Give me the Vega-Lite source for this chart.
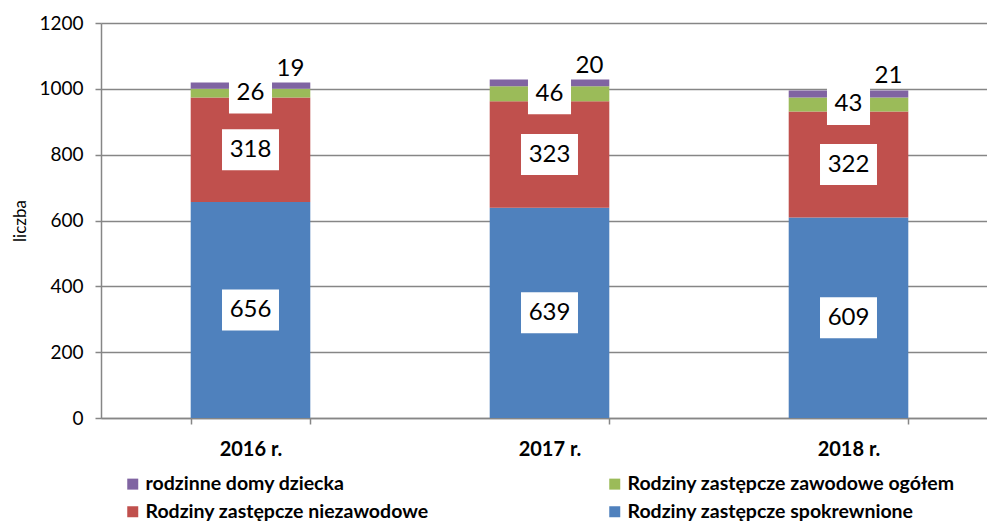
{
  "$schema": "https://vega.github.io/schema/vega-lite/v6.json",
  "width": 897,
  "height": 395,
  "autosize": {"type": "none"},
  "padding": {"left": 101, "top": 23, "right": 0, "bottom": 104},
  "background": "white",
  "config": {"font": "Lato", "view": {"stroke": null}},
  "data": {
    "values": [
      {"year": "2016 r.", "series": "Rodziny zastępcze spokrewnione", "value": 656, "k": 1},
      {"year": "2016 r.", "series": "Rodziny zastępcze niezawodowe", "value": 318, "k": 2},
      {"year": "2016 r.", "series": "Rodziny zastępcze zawodowe ogółem", "value": 26, "k": 3},
      {"year": "2016 r.", "series": "rodzinne domy dziecka", "value": 19, "k": 4},
      {"year": "2017 r.", "series": "Rodziny zastępcze spokrewnione", "value": 639, "k": 1},
      {"year": "2017 r.", "series": "Rodziny zastępcze niezawodowe", "value": 323, "k": 2},
      {"year": "2017 r.", "series": "Rodziny zastępcze zawodowe ogółem", "value": 46, "k": 3},
      {"year": "2017 r.", "series": "rodzinne domy dziecka", "value": 20, "k": 4},
      {"year": "2018 r.", "series": "Rodziny zastępcze spokrewnione", "value": 609, "k": 1},
      {"year": "2018 r.", "series": "Rodziny zastępcze niezawodowe", "value": 322, "k": 2},
      {"year": "2018 r.", "series": "Rodziny zastępcze zawodowe ogółem", "value": 43, "k": 3},
      {"year": "2018 r.", "series": "rodzinne domy dziecka", "value": 21, "k": 4}
    ]
  },
  "transform": [
    {"stack": "value", "groupby": ["year"], "sort": [{"field": "k", "order": "ascending"}], "as": ["v0", "v1"]},
    {"calculate": "(datum.v0 + datum.v1) / 2", "as": "mid"}
  ],
  "encoding": {
    "x": {
      "field": "year",
      "type": "nominal",
      "scale": {"paddingInner": 0.6, "paddingOuter": 0.3},
      "axis": {
        "title": null,
        "labelAngle": 0,
        "labelFontSize": 20,
        "labelFontWeight": "bold",
        "labelColor": "black",
        "labelPadding": 15,
        "tickBand": "extent",
        "tickSize": 6,
        "tickColor": "#868686",
        "domainColor": "#868686",
        "domainWidth": 1.5,
        "tickWidth": 1.5
      }
    }
  },
  "layer": [
    {
      "mark": {"type": "bar"},
      "encoding": {
        "y": {
          "field": "v0",
          "type": "quantitative",
          "scale": {"domain": [0, 1200]},
          "axis": {
            "title": "liczba",
            "titleFontSize": 17,
            "titleFontWeight": "normal",
            "titleColor": "black",
            "titlePadding": 9,
            "values": [0, 200, 400, 600, 800, 1000, 1200],
            "format": "d",
            "labelFontSize": 19,
            "labelColor": "black",
            "labelPadding": 12,
            "tickSize": 6,
            "tickColor": "#868686",
            "tickWidth": 1.5,
            "domainColor": "#868686",
            "domainWidth": 1.5,
            "gridColor": "#868686",
            "gridWidth": 1.5
          }
        },
        "y2": {"field": "v1"},
        "color": {
          "field": "series",
          "type": "nominal",
          "scale": {
            "domain": ["rodzinne domy dziecka", "Rodziny zastępcze niezawodowe", "Rodziny zastępcze zawodowe ogółem", "Rodziny zastępcze spokrewnione"],
            "range": ["#8064A2", "#C0504D", "#9BBB59", "#4F81BD"]
          },
          "legend": {
            "title": null,
            "orient": "none",
            "legendX": 22,
            "legendY": 451,
            "columns": 2,
            "columnPadding": 176,
            "rowPadding": 7,
            "symbolType": "square",
            "symbolSize": 121,
            "symbolStrokeWidth": 0,
            "labelFontSize": 19.5,
            "labelFontWeight": "bold",
            "labelColor": "black",
            "labelOffset": 3,
            "labelLimit": 400
          }
        }
      }
    },
    {
      "transform": [{"filter": "datum.k <= 2"}],
      "mark": {"type": "point", "shape": "M-1.39,-1H1.39V1H-1.39Z", "filled": true, "color": "white", "opacity": 1, "size": 1681, "strokeWidth": 0},
      "encoding": {"y": {"field": "mid", "type": "quantitative"}}
    },
    {
      "transform": [{"filter": "datum.k == 3"}],
      "mark": {"type": "point", "shape": "M-1.05,-1H1.05V1H-1.05Z", "filled": true, "color": "white", "opacity": 1, "size": 1681, "strokeWidth": 0},
      "encoding": {"y": {"field": "mid", "type": "quantitative"}}
    },
    {
      "transform": [{"filter": "datum.k <= 3"}],
      "mark": {"type": "text", "fontSize": 24, "color": "black", "baseline": "middle"},
      "encoding": {
        "y": {"field": "mid", "type": "quantitative"},
        "text": {"field": "value", "type": "quantitative"}
      }
    },
    {
      "transform": [{"filter": "datum.k == 4"}],
      "mark": {"type": "text", "fontSize": 24, "color": "black", "baseline": "middle", "dx": 40, "dy": -14},
      "encoding": {
        "y": {"field": "v1", "type": "quantitative"},
        "text": {"field": "value", "type": "quantitative"}
      }
    }
  ]
}
